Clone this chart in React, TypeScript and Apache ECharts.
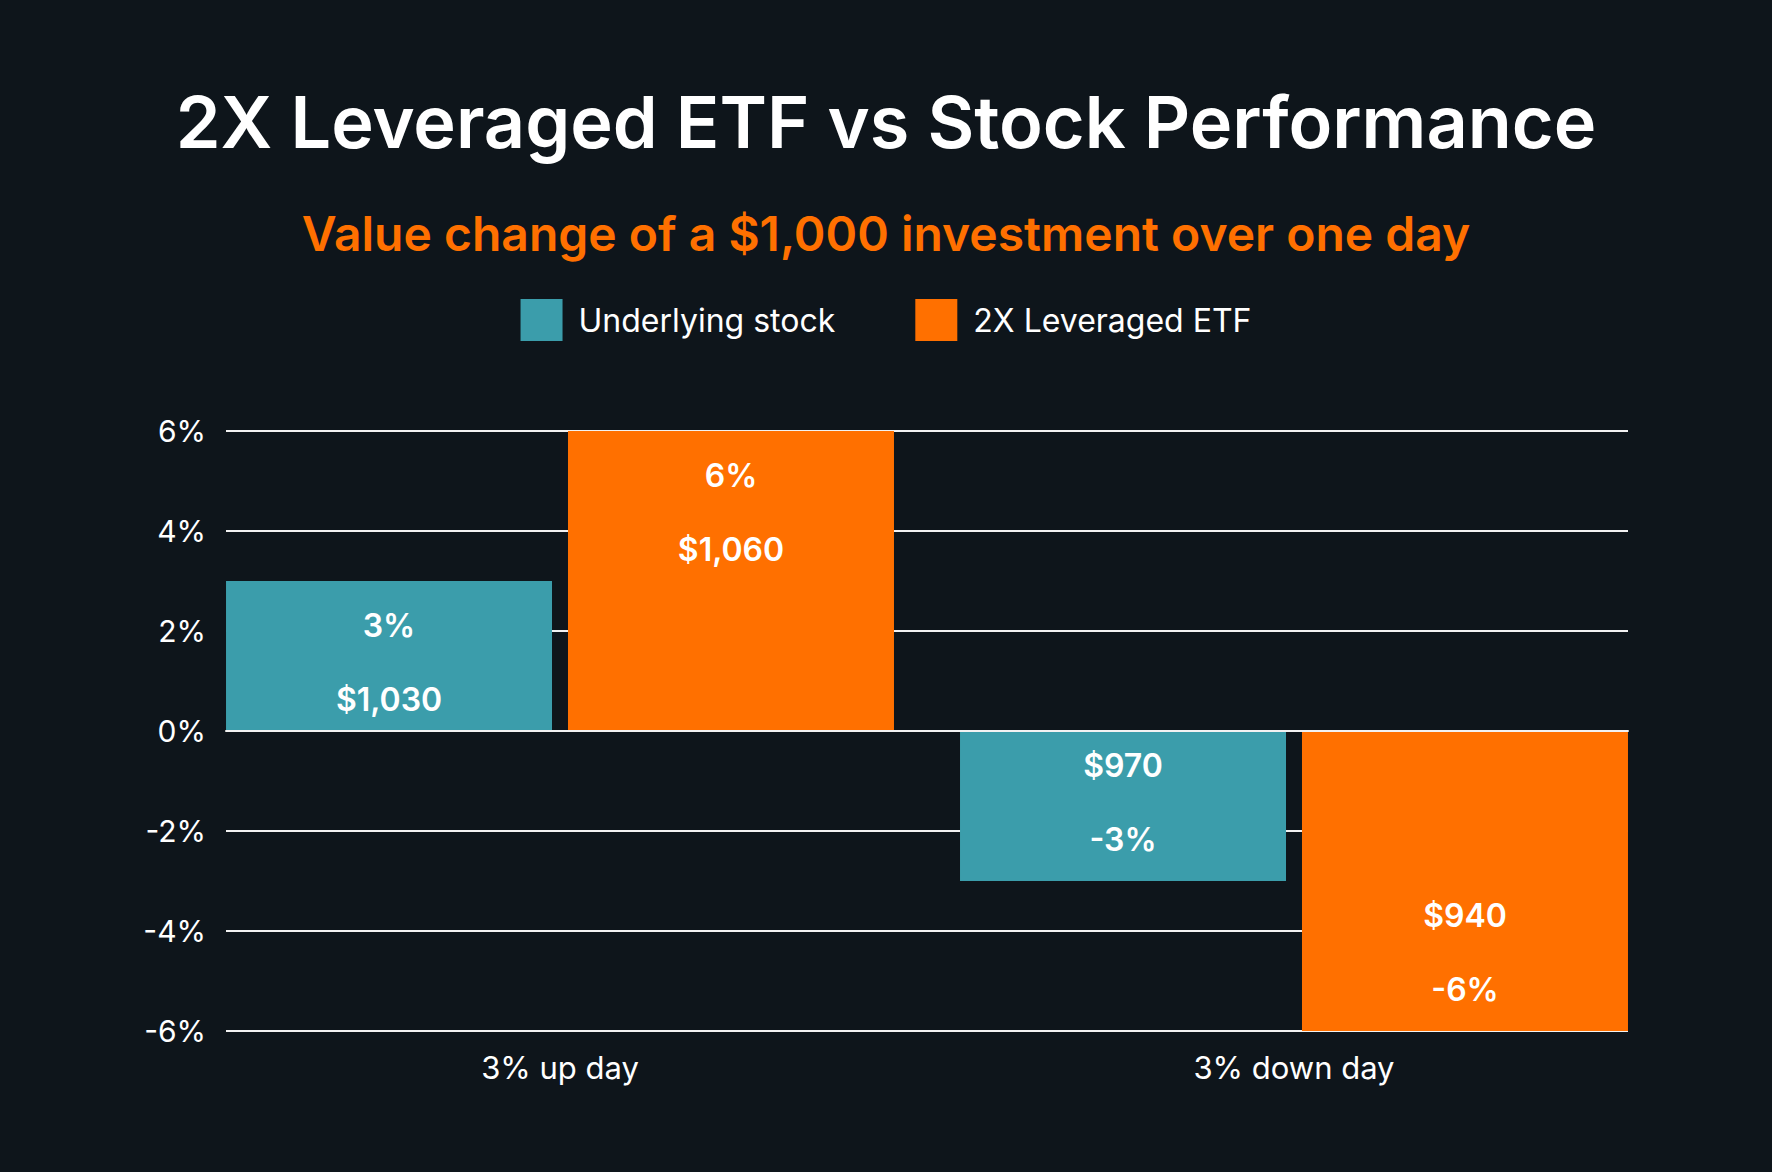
import React, { useEffect, useRef } from "react";
import * as echarts from "echarts";

const categories = ["3% up day", "3% down day"];
const stockPct = [3, -3];
const etfPct = [6, -6];
const stockValue = ["$1,030", "$970"];
const etfValue = ["$1,060", "$940"];
const seriesNames = ["Underlying stock", "2X Leveraged ETF"];
const yMin = -6;
const yMax = 6;
const yStep = 2;

const BG = "#0e151b";
const TEAL = "#3b9dab";
const ORANGE = "#ff7000";
const FONT = "Inter, 'Noto Sans', sans-serif";

function buildData(pcts: number[], values: string[]) {
  return pcts.map((p, i) => {
    const pctText = `${p}%`;
    const positive = p >= 0;
    return {
      value: p,
      label: {
        show: true,
        position: positive ? "insideTop" : "insideBottom",
        distance: positive ? 8 : 5,
        formatter: positive
          ? `{t|${pctText}}\n{t|${values[i]}}`
          : `{t|${values[i]}}\n{t|${pctText}}`,
        rich: {
          t: {
            fontFamily: FONT,
            fontSize: 32,
            fontWeight: 600,
            color: "#ffffff",
            lineHeight: 73.5,
            align: "center",
          },
        },
      },
    };
  });
}

export default function App() {
  const ref = useRef<HTMLDivElement>(null);
  useEffect(() => {
    if (!ref.current) return;
    const chart = echarts.init(ref.current, null, { renderer: "svg" });
    chart.setOption({
      animation: false,
      backgroundColor: BG,
      title: [
        {
          text: "2X Leveraged ETF vs Stock Performance",
          left: "center",
          top: 80,
          textStyle: {
            fontFamily: FONT,
            fontSize: 72,
            fontWeight: 600,
            color: "#ffffff",
            lineHeight: 72,
          },
        },
        {
          text: "Value change of a $1,000 investment over one day",
          left: "center",
          top: 204,
          textStyle: {
            fontFamily: FONT,
            fontSize: 48,
            fontWeight: 600,
            color: ORANGE,
            lineHeight: 48,
          },
        },
      ],
      legend: {
        data: seriesNames,
        left: "center",
        top: 294,
        itemWidth: 42,
        itemHeight: 42,
        itemGap: 80,
        icon: "rect",
        textStyle: {
          fontFamily: FONT,
          fontSize: 32,
          color: "#ffffff",
          padding: [0, 0, 0, 11],
        },
      },
      grid: [
        { left: 226, right: 144, top: 431, bottom: 141 },
        { left: 193, right: 111, top: 431, bottom: 141 },
      ],
      xAxis: [
        {
          gridIndex: 0,
          type: "value",
          min: 0,
          max: 1,
          z: 5,
          axisLine: { show: true, onZero: true, lineStyle: { color: "#f2f2f2", width: 2 } },
          axisTick: { show: false },
          axisLabel: { show: false },
          splitLine: { show: false },
        },
        {
          gridIndex: 1,
          type: "category",
          data: categories,
          axisLine: { show: false },
          axisTick: { show: false },
          axisLabel: {
            fontFamily: FONT,
            fontSize: 31,
            color: "#ffffff",
            margin: 21,
          },
          splitLine: { show: false },
        },
      ],
      yAxis: [
        {
          gridIndex: 0,
          type: "value",
          min: yMin,
          max: yMax,
          interval: yStep,
          axisLine: { show: false },
          axisTick: { show: false },
          axisLabel: {
            formatter: "{value}%",
            fontFamily: FONT,
            fontSize: 30,
            color: "#ffffff",
            margin: 20,
          },
          splitLine: { show: true, lineStyle: { color: "#f2f2f2", width: 2 } },
        },
        {
          gridIndex: 1,
          type: "value",
          min: yMin,
          max: yMax,
          interval: yStep,
          show: false,
          splitLine: { show: false },
        },
      ],
      series: [
        {
          name: seriesNames[0],
          type: "bar",
          xAxisIndex: 1,
          yAxisIndex: 1,
          barWidth: 326,
          barGap: "4.9%",
          itemStyle: { color: TEAL },
          data: buildData(stockPct, stockValue),
        },
        {
          name: seriesNames[1],
          type: "bar",
          xAxisIndex: 1,
          yAxisIndex: 1,
          barWidth: 326,
          barGap: "4.9%",
          itemStyle: { color: ORANGE },
          data: buildData(etfPct, etfValue),
        },
      ],
    });
    return () => chart.dispose();
  }, []);
  return (
    <div
      ref={ref}
      style={{ position: "fixed", left: 0, top: 0, width: 1772, height: 1172 }}
    />
  );
}
